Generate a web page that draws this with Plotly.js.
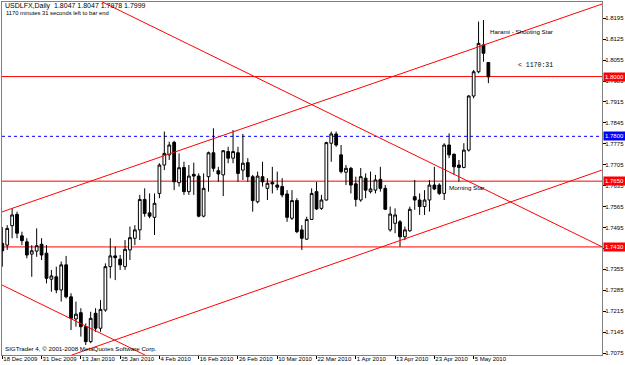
<!DOCTYPE html>
<html>
<head>
<meta charset="utf-8">
<script src="https://cdn.plot.ly/plotly-3.0.1.min.js"></script>
<style>html,body{margin:0;padding:0;background:#fff;}#chart{width:625px;height:365px;}</style>
</head>
<body>
<div id="chart"></div>
<script>
// ---- data ----
const dateLabels = ['18 Dec 2009','31 Dec 2009','13 Jan 2010','25 Jan 2010','4 Feb 2010','16 Feb 2010','26 Feb 2010','10 Mar 2010','22 Mar 2010','1 Apr 2010','13 Apr 2010','23 Apr 2010','5 May 2010'];
const barsPerLabel = 8;

const openP = [1.7442,1.7436,1.7501,1.7539,1.7467,1.7447,1.7406,1.7416,1.7439,1.7409,
1.7322,1.7330,1.7286,1.7370,1.7263,1.7189,1.7210,1.7163,1.7113,1.7208,
1.7158,1.7219,1.7364,1.7400,1.7389,1.7364,1.7420,1.7459,1.7487,1.7589,
1.7544,1.7529,1.7609,1.7704,1.7738,1.7780,1.7645,1.7696,1.7615,1.7673,
1.7667,1.7533,1.7665,1.7745,1.7685,1.7671,1.7749,1.7727,1.7745,1.7687,
1.7712,1.7665,1.7581,1.7665,1.7626,1.7646,1.7637,1.7632,1.7607,1.7526,
1.7585,1.7487,1.7456,1.7522,1.7615,1.7559,1.7587,1.7777,1.7808,1.7738,
1.7680,1.7693,1.7641,1.7587,1.7660,1.7615,1.7620,1.7656,1.7626,1.7487,
1.7509,1.7514,1.7464,1.7484,1.7598,1.7587,1.7565,1.7587,1.7637,1.7637,
1.7609,1.7771,1.7740,1.7704,1.7696,1.7754,1.7935,1.8016,1.8106,1.8047];
const highP = [1.7496,1.7503,1.7559,1.7548,1.7481,1.7459,1.7436,1.7492,1.7459,1.7436,
1.7353,1.7364,1.7381,1.7400,1.7275,1.7247,1.7225,1.7174,1.7213,1.7225,
1.7252,1.7375,1.7459,1.7431,1.7403,1.7453,1.7498,1.7503,1.7604,1.7626,
1.7609,1.7609,1.7710,1.7816,1.7782,1.7785,1.7743,1.7715,1.7704,1.7712,
1.7676,1.7676,1.7749,1.7827,1.7698,1.7754,1.7765,1.7821,1.7765,1.7808,
1.7727,1.7671,1.7682,1.7715,1.7660,1.7698,1.7682,1.7660,1.7620,1.7620,
1.7593,1.7503,1.7531,1.7626,1.7648,1.7604,1.7782,1.7816,1.7816,1.7771,
1.7704,1.7698,1.7665,1.7694,1.7676,1.7682,1.7671,1.7698,1.7637,1.7565,
1.7559,1.7520,1.7498,1.7565,1.7654,1.7609,1.7620,1.7654,1.7698,1.7643,
1.7777,1.7810,1.7743,1.7721,1.7777,1.7938,1.8022,1.8184,1.8189,1.8047];
const lowP = [1.7364,1.7420,1.7459,1.7459,1.7436,1.7392,1.7330,1.7397,1.7386,1.7308,
1.7280,1.7275,1.7247,1.7258,1.7152,1.7163,1.7130,1.7102,1.7108,1.7146,
1.7146,1.7213,1.7325,1.7319,1.7353,1.7353,1.7386,1.7436,1.7453,1.7531,
1.7526,1.7470,1.7593,1.7687,1.7721,1.7620,1.7632,1.7604,1.7604,1.7604,
1.7529,1.7529,1.7615,1.7682,1.7648,1.7600,1.7710,1.7710,1.7648,1.7654,
1.7648,1.7548,1.7576,1.7632,1.7587,1.7609,1.7620,1.7596,1.7514,1.7520,
1.7476,1.7420,1.7453,1.7520,1.7554,1.7554,1.7585,1.7715,1.7765,1.7676,
1.7637,1.7609,1.7565,1.7581,1.7593,1.7609,1.7609,1.7615,1.7554,1.7481,
1.7476,1.7431,1.7453,1.7481,1.7554,1.7537,1.7537,1.7548,1.7620,1.7604,
1.7587,1.7727,1.7671,1.7648,1.7693,1.7749,1.7927,1.8011,1.8050,1.7978];
const closeP = [1.7417,1.7492,1.7537,1.7476,1.7451,1.7403,1.7417,1.7434,1.7403,1.7325,
1.7333,1.7286,1.7370,1.7263,1.7191,1.7205,1.7163,1.7113,1.7191,1.7158,
1.7221,1.7364,1.7400,1.7394,1.7370,1.7422,1.7461,1.7487,1.7589,1.7542,
1.7533,1.7576,1.7704,1.7743,1.7771,1.7648,1.7695,1.7615,1.7667,1.7667,
1.7533,1.7626,1.7745,1.7693,1.7674,1.7752,1.7727,1.7749,1.7676,1.7710,
1.7665,1.7585,1.7667,1.7648,1.7643,1.7641,1.7630,1.7604,1.7529,1.7585,
1.7481,1.7459,1.7522,1.7609,1.7557,1.7587,1.7779,1.7808,1.7771,1.7682,
1.7693,1.7637,1.7589,1.7665,1.7620,1.7624,1.7654,1.7626,1.7556,1.7540,
1.7537,1.7464,1.7487,1.7556,1.7587,1.7565,1.7587,1.7637,1.7624,1.7609,
1.7771,1.7738,1.7698,1.7696,1.7754,1.7935,1.8016,1.8111,1.8078,1.7999];

const levelPrices = [1.8000, 1.7800, 1.7650, 1.7430];

// trend lines: [bar, price] start / end
const trendStartBar   = [-0.1, 14.1, 20.3, -0.1];
const trendStartPrice = [1.7547, 1.7068, 1.8250, 1.7303];
const trendEndBar     = [122.2, 122.1, 122.2, 29.1];
const trendEndPrice   = [1.8243, 1.7687, 1.7430, 1.7068];

const priceTicks = ['1.7075','1.7145','1.7215','1.7285','1.7355','1.7425','1.7495','1.7565','1.7635','1.7705','1.7775','1.7845','1.7915','1.7985','1.8055','1.8125','1.8195'];

const headerText = 'USDLFX,Daily  1.8047 1.8047 1.7978 1.7999';
const timerText = '1170 minutes 31 seconds left to bar end';
const copyrightText = 'SIGTrader 4, © 2001-2008 MetaQuotes Software Corp.';
const patternLabels = ['Harami - Shooting Star', 'Morning Star'];
const patternBar = [98.9, 90.6];
const patternPrice = [1.8152, 1.7630];
const barTimer = '< 1170:31';

// ---- styles ----
const levelColors = ['#ff0000', '#0000ff', '#ff0000', '#ff0000'];
const levelDash = ['solid', 'dot', 'solid', 'solid'];
const FONT = 'Liberation Sans, Arial, sans-serif';
const FS = 6;

const xs = openP.map((_, i) => i);

const traces = [];
for (let k = 0; k < trendStartBar.length; k++) {
  traces.push({
    type: 'scatter', mode: 'lines',
    x: [trendStartBar[k], trendEndBar[k]],
    y: [trendStartPrice[k], trendEndPrice[k]],
    line: {color: '#ff0000', width: 1},
    hoverinfo: 'skip', showlegend: false
  });
}
traces.push({
  type: 'candlestick', x: xs, open: openP, high: highP, low: lowP, close: closeP,
  increasing: {line: {color: '#000000', width: 1}, fillcolor: '#ffffff'},
  decreasing: {line: {color: '#000000', width: 1}, fillcolor: '#000000'},
  whiskerwidth: 0, showlegend: false, hoverinfo: 'skip'
});

const shapes = levelPrices.map((p, k) => ({
  type: 'line', xref: 'paper', x0: 0, x1: 1, yref: 'y', y0: p, y1: p,
  line: {color: levelColors[k], width: 1, dash: levelDash[k]}, layer: 'below'
}));

const annotations = [];
levelPrices.forEach((p, k) => {
  annotations.push({
    xref: 'paper', x: 1, xanchor: 'left', xshift: 1, yref: 'y', y: p, yanchor: 'middle',
    text: p.toFixed(4), showarrow: false, bgcolor: levelColors[k],
    font: {family: FONT, size: FS, color: '#ffffff'}, borderpad: 1
  });
});
annotations.push({xref: 'paper', x: 0, xshift: 1, xanchor: 'left', yref: 'paper', y: 0.9895, yanchor: 'middle',
  text: headerText, showarrow: false, font: {family: FONT, size: 7, color: '#000'}});
annotations.push({xref: 'paper', x: 0, xshift: 2, xanchor: 'left', yref: 'paper', y: 0.9697, yanchor: 'middle',
  text: timerText, showarrow: false, font: {family: FONT, size: 5.8, color: '#000'}});
annotations.push({xref: 'paper', x: 0, xshift: 1, xanchor: 'left', yref: 'paper', y: 0.0184, yanchor: 'middle',
  text: copyrightText, showarrow: false, font: {family: FONT, size: 6.2, color: '#000'}});
patternLabels.forEach((t, k) => {
  annotations.push({xref: 'x', x: patternBar[k], xanchor: 'left', yref: 'y', y: patternPrice[k], yanchor: 'middle',
    text: t, showarrow: false, font: {family: FONT, size: 6.2, color: '#000'}});
});
annotations.push({xref: 'x', x: closeP.length - 1 + 5.6, xanchor: 'left', yref: 'y', y: closeP[closeP.length - 1] + 0.0037, yanchor: 'middle',
  text: barTimer, showarrow: false, font: {family: 'Liberation Mono, monospace', size: 6.5, color: '#000'}});

const layout = {
  width: 625, height: 365,
  margin: {l: 2, r: 23, t: 2, b: 10, pad: 0},
  paper_bgcolor: '#ffffff', plot_bgcolor: '#ffffff',
  font: {family: FONT, size: FS, color: '#000'},
  showlegend: false,
  boxgap: 0.2,
  xaxis: {
    type: 'linear', range: [-0.06, 122.14],
    tickvals: dateLabels.map((_, k) => k * barsPerLabel), ticktext: dateLabels,
    ticks: 'outside', ticklen: 3, tickcolor: '#000', ticklabelposition: 'outside right',
    tickangle: 0, ticklabelstandoff: -2,
    tickfont: {family: FONT, size: FS, color: '#000'},
    showgrid: false, zeroline: false, showline: true, mirror: true, linecolor: '#808080', linewidth: 1,
    rangeslider: {visible: false}, automargin: false, fixedrange: true
  },
  yaxis: {
    side: 'right', range: [1.70684, 1.82495],
    tickvals: priceTicks.map(Number), ticktext: priceTicks,
    ticks: 'outside', ticklen: 3, tickcolor: '#000',
    ticklabelstandoff: -2,
    tickfont: {family: FONT, size: FS, color: '#000'},
    showgrid: false, zeroline: false, showline: true, mirror: true, linecolor: '#808080', linewidth: 1,
    automargin: false, fixedrange: true
  },
  shapes: shapes,
  annotations: annotations
};

Plotly.newPlot('chart', traces, layout, {displayModeBar: false, staticPlot: true});
</script>
</body>
</html>
